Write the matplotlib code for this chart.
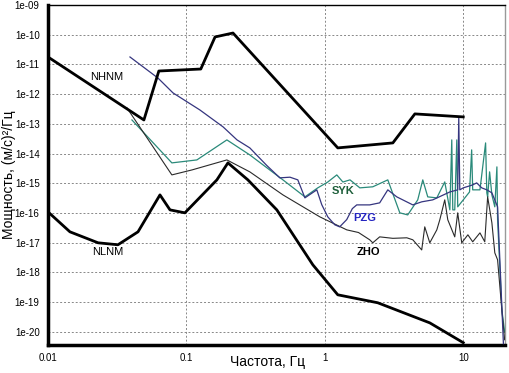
import matplotlib
matplotlib.use("Agg")
import matplotlib.pyplot as plt
from matplotlib.ticker import FixedLocator, NullLocator

plt.rcParams['font.family'] = ['Liberation Sans', 'DejaVu Sans']

# Peterson noise models
nhnm_f = [0.01, 0.0493, 0.0632, 0.127, 0.161, 0.217, 1.24, 3.10, 4.47, 10.0]
nhnm_p = [1.78e-11, 1.35e-13, 6.0e-12, 7.0e-12, 8.4e-11, 1.14e-10, 1.55e-14, 2.28e-14, 2.16e-13, 1.71e-13]

nlnm_f = [0.01, 0.0144, 0.023, 0.032, 0.0447, 0.0644, 0.0761, 0.0975, 0.166, 0.1995,
          0.278, 0.450, 0.819, 1.24, 2.41, 5.73, 10.0]
nlnm_p = [1.09e-16, 2.32e-17, 9.9e-18, 8.5e-18, 2.32e-17, 4.06e-16, 1.27e-16, 1.01e-16, 1.30e-15, 4.85e-15,
          1.30e-15, 1.27e-16, 1.8e-18, 1.76e-19, 9.5e-20, 2.0e-20, 4.3e-21]

# Stations
pzg_f = [0.0391, 0.0622, 0.080, 0.125, 0.184, 0.232, 0.287, 0.380, 0.473, 0.560, 0.638, 0.718, 0.875,
         0.95, 1.05, 1.18, 1.28, 1.44, 1.58, 1.70, 2.11, 2.49, 2.85, 3.31, 4.32, 5.01, 6.02, 8.00, 9.12,
         9.28, 9.44, 10.0, 11.7, 12.5, 13.6, 14.8, 16.1, 17.7, 19.5]
pzg_p = [1.78e-11, 3.5e-12, 1.1e-12, 2.94e-13, 7.9e-14, 2.88e-14, 1.55e-14, 4.0e-15, 1.52e-15, 1.6e-15, 1.30e-15, 3.22e-16, 6.0e-16,
         1.9e-16, 7.4e-17, 4.0e-17, 3.41e-17, 6.0e-17, 1.4e-16, 1.87e-16, 1.87e-16, 2.19e-16, 6.0e-16, 3.48e-16, 1.87e-16, 2.37e-16, 2.76e-16, 5.1e-16, 6.0e-16,
         1.71e-13, 6.0e-16, 7.0e-16, 8.8e-16, 1.03e-15, 7.0e-16, 6.0e-16, 4.75e-16, 1.61e-16, 4.0e-21]

syk_f = [0.0404, 0.0785, 0.119, 0.196, 0.287, 0.498, 0.718, 0.889, 1.05, 1.22, 1.35, 1.52,
         1.79, 2.22, 2.85, 3.48, 3.97, 4.69, 5.10, 5.54, 6.44, 7.35, 8.00, 8.26, 8.40, 8.68,
         8.98, 9.12, 10.0, 11.1, 11.5, 11.7, 13.2, 14.5, 14.8, 15.0, 15.5, 16.1, 16.9, 17.5,
         17.7, 19.0, 19.9]
syk_p = [1.35e-13, 4.85e-15, 6.1e-15, 2.88e-14, 9.0e-15, 1.30e-15, 3.48e-16, 7.0e-16, 1.1e-15, 1.91e-15, 1.1e-15, 1.30e-15,
         7.0e-16, 7.6e-16, 1.30e-15, 1.01e-16, 8.6e-17, 2.76e-16, 1.30e-15, 3.48e-16, 3.22e-16, 1.11e-15, 1.27e-16, 2.88e-14, 1.27e-16, 1.27e-16,
         2.88e-14, 1.61e-16, 2.76e-16, 5.1e-16, 1.33e-14, 6.0e-16, 6.0e-16, 2.28e-14, 4.75e-16, 3.48e-16, 2.42e-15, 4.06e-16, 1.61e-16, 3.56e-15,
         5.9e-17, 5.5e-20, 1.0e-20]

zho_f = [0.0372, 0.0785, 0.110, 0.196, 0.287, 0.498, 0.920, 1.44, 1.75, 2.11, 2.22, 2.49, 3.10, 3.91,
         4.32, 5.01, 5.27, 5.73, 6.44, 6.77, 7.35, 7.73, 8.68, 9.12, 9.75, 10.8, 11.7, 13.2,
         14.3, 15.0, 16.1, 16.9, 17.7, 19.0, 19.9]
zho_p = [3.43e-13, 1.91e-15, 2.82e-15, 6.1e-15, 2.42e-15, 4.06e-16, 7.4e-17, 2.70e-17, 2.2e-17, 1.25e-17, 9.9e-18, 1.57e-17, 1.4e-17, 1.46e-17,
         1.25e-17, 5.7e-18, 3.41e-17, 9.9e-18, 2.70e-17, 5.9e-17, 2.76e-16, 5.9e-17, 1.57e-17, 1.01e-16, 9.9e-18, 1.84e-17, 1.07e-17, 2.14e-17,
         1.07e-17, 3.48e-16, 4.65e-17, 4.55e-18, 2.65e-18, 5.5e-20, 5.4e-21]

y_ticks = [1e-20, 1e-19, 1e-18, 1e-17, 1e-16, 1e-15, 1e-14, 1e-13, 1e-12, 1e-11, 1e-10, 1e-09]
x_ticks = [0.01, 0.1, 1, 10]
x_labels = ['0.01', '0.1', '1', '10']

fig = plt.figure(figsize=(5.09, 3.73), dpi=100)
ax = fig.add_axes([0.0943, 0.0751, 0.8977, 0.9115])
ax.set_xscale('log')
ax.set_yscale('log')
ax.set_xlim(0.01, 20)
ax.set_ylim(3.6e-21, 1e-09)

ax.plot(syk_f, syk_p, color='#2a8a7a', lw=0.9, zorder=3)
ax.plot(pzg_f, pzg_p, color='#35357f', lw=0.9, zorder=4)
ax.plot(zho_f, zho_p, color='#2a2a2a', lw=0.8, zorder=3)
ax.plot(nhnm_f, nhnm_p, color='black', lw=2, zorder=5)
ax.plot(nlnm_f, nlnm_p, color='black', lw=2, zorder=5)

ax.xaxis.set_major_locator(FixedLocator(x_ticks))
ax.set_xticklabels(x_labels)
ax.xaxis.set_minor_locator(NullLocator())
ax.yaxis.set_major_locator(FixedLocator(y_ticks))
ax.set_yticklabels([f"{v:.0e}" for v in y_ticks])
ax.yaxis.set_minor_locator(NullLocator())
ax.tick_params(length=0, labelsize=7, pad=6)

ax.grid(True, which='major', color='#888888', linestyle=(0, (2, 2)), lw=0.7)
ax.set_axisbelow(True)

ax.spines['left'].set_linewidth(2.5)
ax.spines['bottom'].set_linewidth(2.5)
ax.spines['top'].set_linewidth(1.0)
ax.spines['right'].set_linewidth(1.0)
ax.spines['right'].set_color('#999999')

ax.set_xlabel('Частота, Гц', fontsize=10, va='center')
ax.xaxis.set_label_coords(0.481, -0.05)
ax.set_ylabel('Мощность, (м/с)²/Гц', fontsize=10, va='center')
ax.yaxis.set_label_coords(-0.085, 0.5)

ax.text(0.0267, 3.7e-12, 'NHNM', fontsize=8, ha='center', va='center', zorder=6)
ax.text(0.027, 4.9e-18, 'NLNM', fontsize=8, ha='center', va='center', zorder=6)
ax.text(1.35, 5.5e-16, 'SYK', fontsize=8, fontweight='bold', color='#1d5e3a', ha='center', va='center', zorder=6)
ax.text(1.95, 7.0e-17, 'PZG', fontsize=8, fontweight='bold', color='#2424c0', ha='center', va='center', zorder=6)
ax.text(2.05, 4.9e-18, 'ZHO', fontsize=8, fontweight='bold', color='black', ha='center', va='center', zorder=6)

fig.savefig('out.png', dpi=100)
